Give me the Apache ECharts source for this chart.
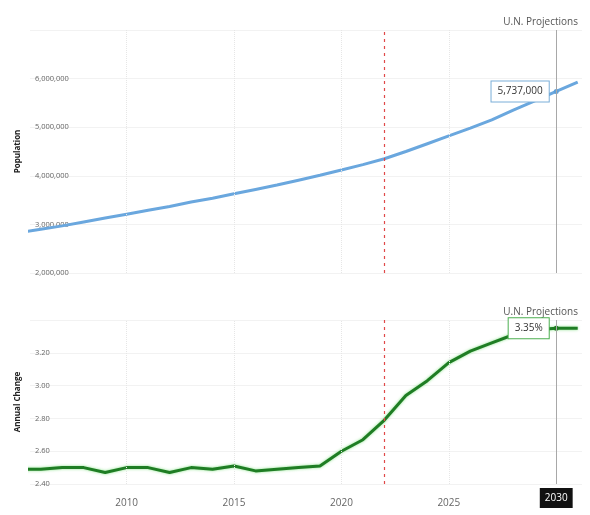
<!DOCTYPE html>
<html>
<head>
<meta charset="utf-8">
<script src="https://cdn.jsdelivr.net/npm/echarts@6/dist/echarts.min.js"></script>
<style>html,body{margin:0;padding:0;background:#fff;}#c{width:590px;height:515px;}</style>
</head>
<body>
<div id="c"></div>
<script>
const years = [2005,2006,2007,2008,2009,2010,2011,2012,2013,2014,2015,2016,2017,2018,2019,2020,2021,2022,2023,2024,2025,2026,2027,2028,2029,2030,2031];
const population = [2830000,2900000,2970000,3050000,3130000,3210000,3290000,3370000,3460000,3540000,3630000,3720000,3810000,3910000,4010000,4120000,4230000,4350000,4500000,4660000,4820000,4980000,5150000,5350000,5540000,5737000,5930000];
const annualChange = [2.49,2.49,2.50,2.50,2.47,2.50,2.50,2.47,2.50,2.49,2.51,2.48,2.49,2.50,2.51,2.60,2.67,2.79,2.94,3.03,3.14,3.21,3.26,3.31,3.34,3.35,3.35];
const xTickYears = [2010,2015,2020,2025];
const projectionStartYear = 2022;
const highlightYear = 2030;
const projectionText = 'U.N. Projections';

const chart = echarts.init(document.getElementById('c'), null, {renderer:'canvas'});
const font = 'Open Sans';

function buildData(vals, labelFmt, borderColor) {
  return years.map((y, i) => {
    if (y === highlightYear) {
      return {
        value: [y, vals[i]],
        symbol: 'circle', symbolSize: 5,
        label: {
          show: true, position: 'left', distance: 5,
          formatter: labelFmt,
          fontFamily: font, fontSize: 10, color: '#333',
          backgroundColor: '#fff', borderColor: borderColor, borderWidth: 1,
          padding: [5, 6]
        }
      };
    }
    return { value: [y, vals[i]] };
  });
}

function markLines(withLabel) {
  const d = xTickYears.map(y => ({ xAxis: y, lineStyle: { type: 'dotted', color: '#e6e6e6', width: 1 } }));
  d.push({ xAxis: projectionStartYear, lineStyle: { type: [3, 4], color: '#e04848', width: 1.2 } });
  const hl = { xAxis: highlightYear, lineStyle: { type: 'solid', color: '#a8a8a8', width: 1 } };
  if (withLabel) {
    hl.label = { show: true, position: 'start', distance: 4, formatter: String(highlightYear),
      backgroundColor: '#111', color: '#fff', fontFamily: font, fontSize: 10, padding: [5, 5] };
  }
  d.push(hl);
  return { silent: true, symbol: 'none', label: { show: false }, data: d, animation: false };
}

const xBase = {
  type: 'value', min: 2005.5, max: 2031.2,
  axisLine: { show: false }, axisTick: { show: false }, splitLine: { show: false }
};

chart.setOption({
  animation: false,
  backgroundColor: '#fff',
  grid: [
    { left: 30, right: 8, top: 30, height: 243 },
    { left: 30, right: 8, top: 320, height: 164 }
  ],
  xAxis: [
    Object.assign({}, xBase, { gridIndex: 0, axisLabel: { show: false } }),
    Object.assign({}, xBase, { gridIndex: 1, axisLabel: { show: true, customValues: xTickYears, formatter: v => String(v), color: '#666', fontFamily: font, fontSize: 10, margin: 14 } })
  ],
  yAxis: [
    {
      type: 'value', gridIndex: 0, min: 2000000, max: 7000000, interval: 1000000,
      name: 'Population', nameLocation: 'middle', nameGap: 7, nameRotate: 90,
      nameTextStyle: { fontFamily: font, fontSize: 8, fontWeight: 'bold', color: '#222' },
      axisLine: { show: false }, axisTick: { show: false },
      axisLabel: { inside: true, margin: 5, showMaxLabel: false, color: '#666', fontFamily: font, fontSize: 7.5,
        formatter: v => v.toLocaleString('en-US') },
      splitLine: { lineStyle: { color: '#f2f2f2' } }
    },
    {
      type: 'value', gridIndex: 1, min: 2.4, max: 3.4, interval: 0.2,
      name: 'Annual Change', nameLocation: 'middle', nameGap: 7, nameRotate: 90,
      nameTextStyle: { fontFamily: font, fontSize: 8, fontWeight: 'bold', color: '#222' },
      axisLine: { show: false }, axisTick: { show: false },
      axisLabel: { inside: true, margin: 5, showMaxLabel: false, color: '#666', fontFamily: font, fontSize: 7.5,
        formatter: v => v.toFixed(2) },
      splitLine: { lineStyle: { color: '#f2f2f2' } }
    }
  ],
  graphic: [
    { type: 'text', right: 12, top: 17, style: { text: projectionText, fontFamily: font, fontSize: 10, fill: '#555' } },
    { type: 'text', right: 12, top: 307, style: { text: projectionText, fontFamily: font, fontSize: 10, fill: '#555' } }
  ],
  series: [
    {
      type: 'line', xAxisIndex: 0, yAxisIndex: 0, symbol: 'none', showSymbol: true,
      itemStyle: { color: '#5f9fd8' },
      lineStyle: { color: '#6aa7de', width: 3 },
      data: buildData(population, p => p.value[1].toLocaleString('en-US'), '#7aaed8'),
      markLine: markLines(false)
    },
    {
      type: 'line', xAxisIndex: 1, yAxisIndex: 1, symbol: 'none', showSymbol: true,
      itemStyle: { color: '#1f7a1f' },
      lineStyle: { color: '#1f7d24', width: 3, shadowColor: 'rgba(110,220,110,0.8)', shadowBlur: 3 },
      data: buildData(annualChange, p => p.value[1].toFixed(2) + '%', '#4caf50'),
      markLine: markLines(true)
    }
  ]
});
</script>
</body>
</html>
